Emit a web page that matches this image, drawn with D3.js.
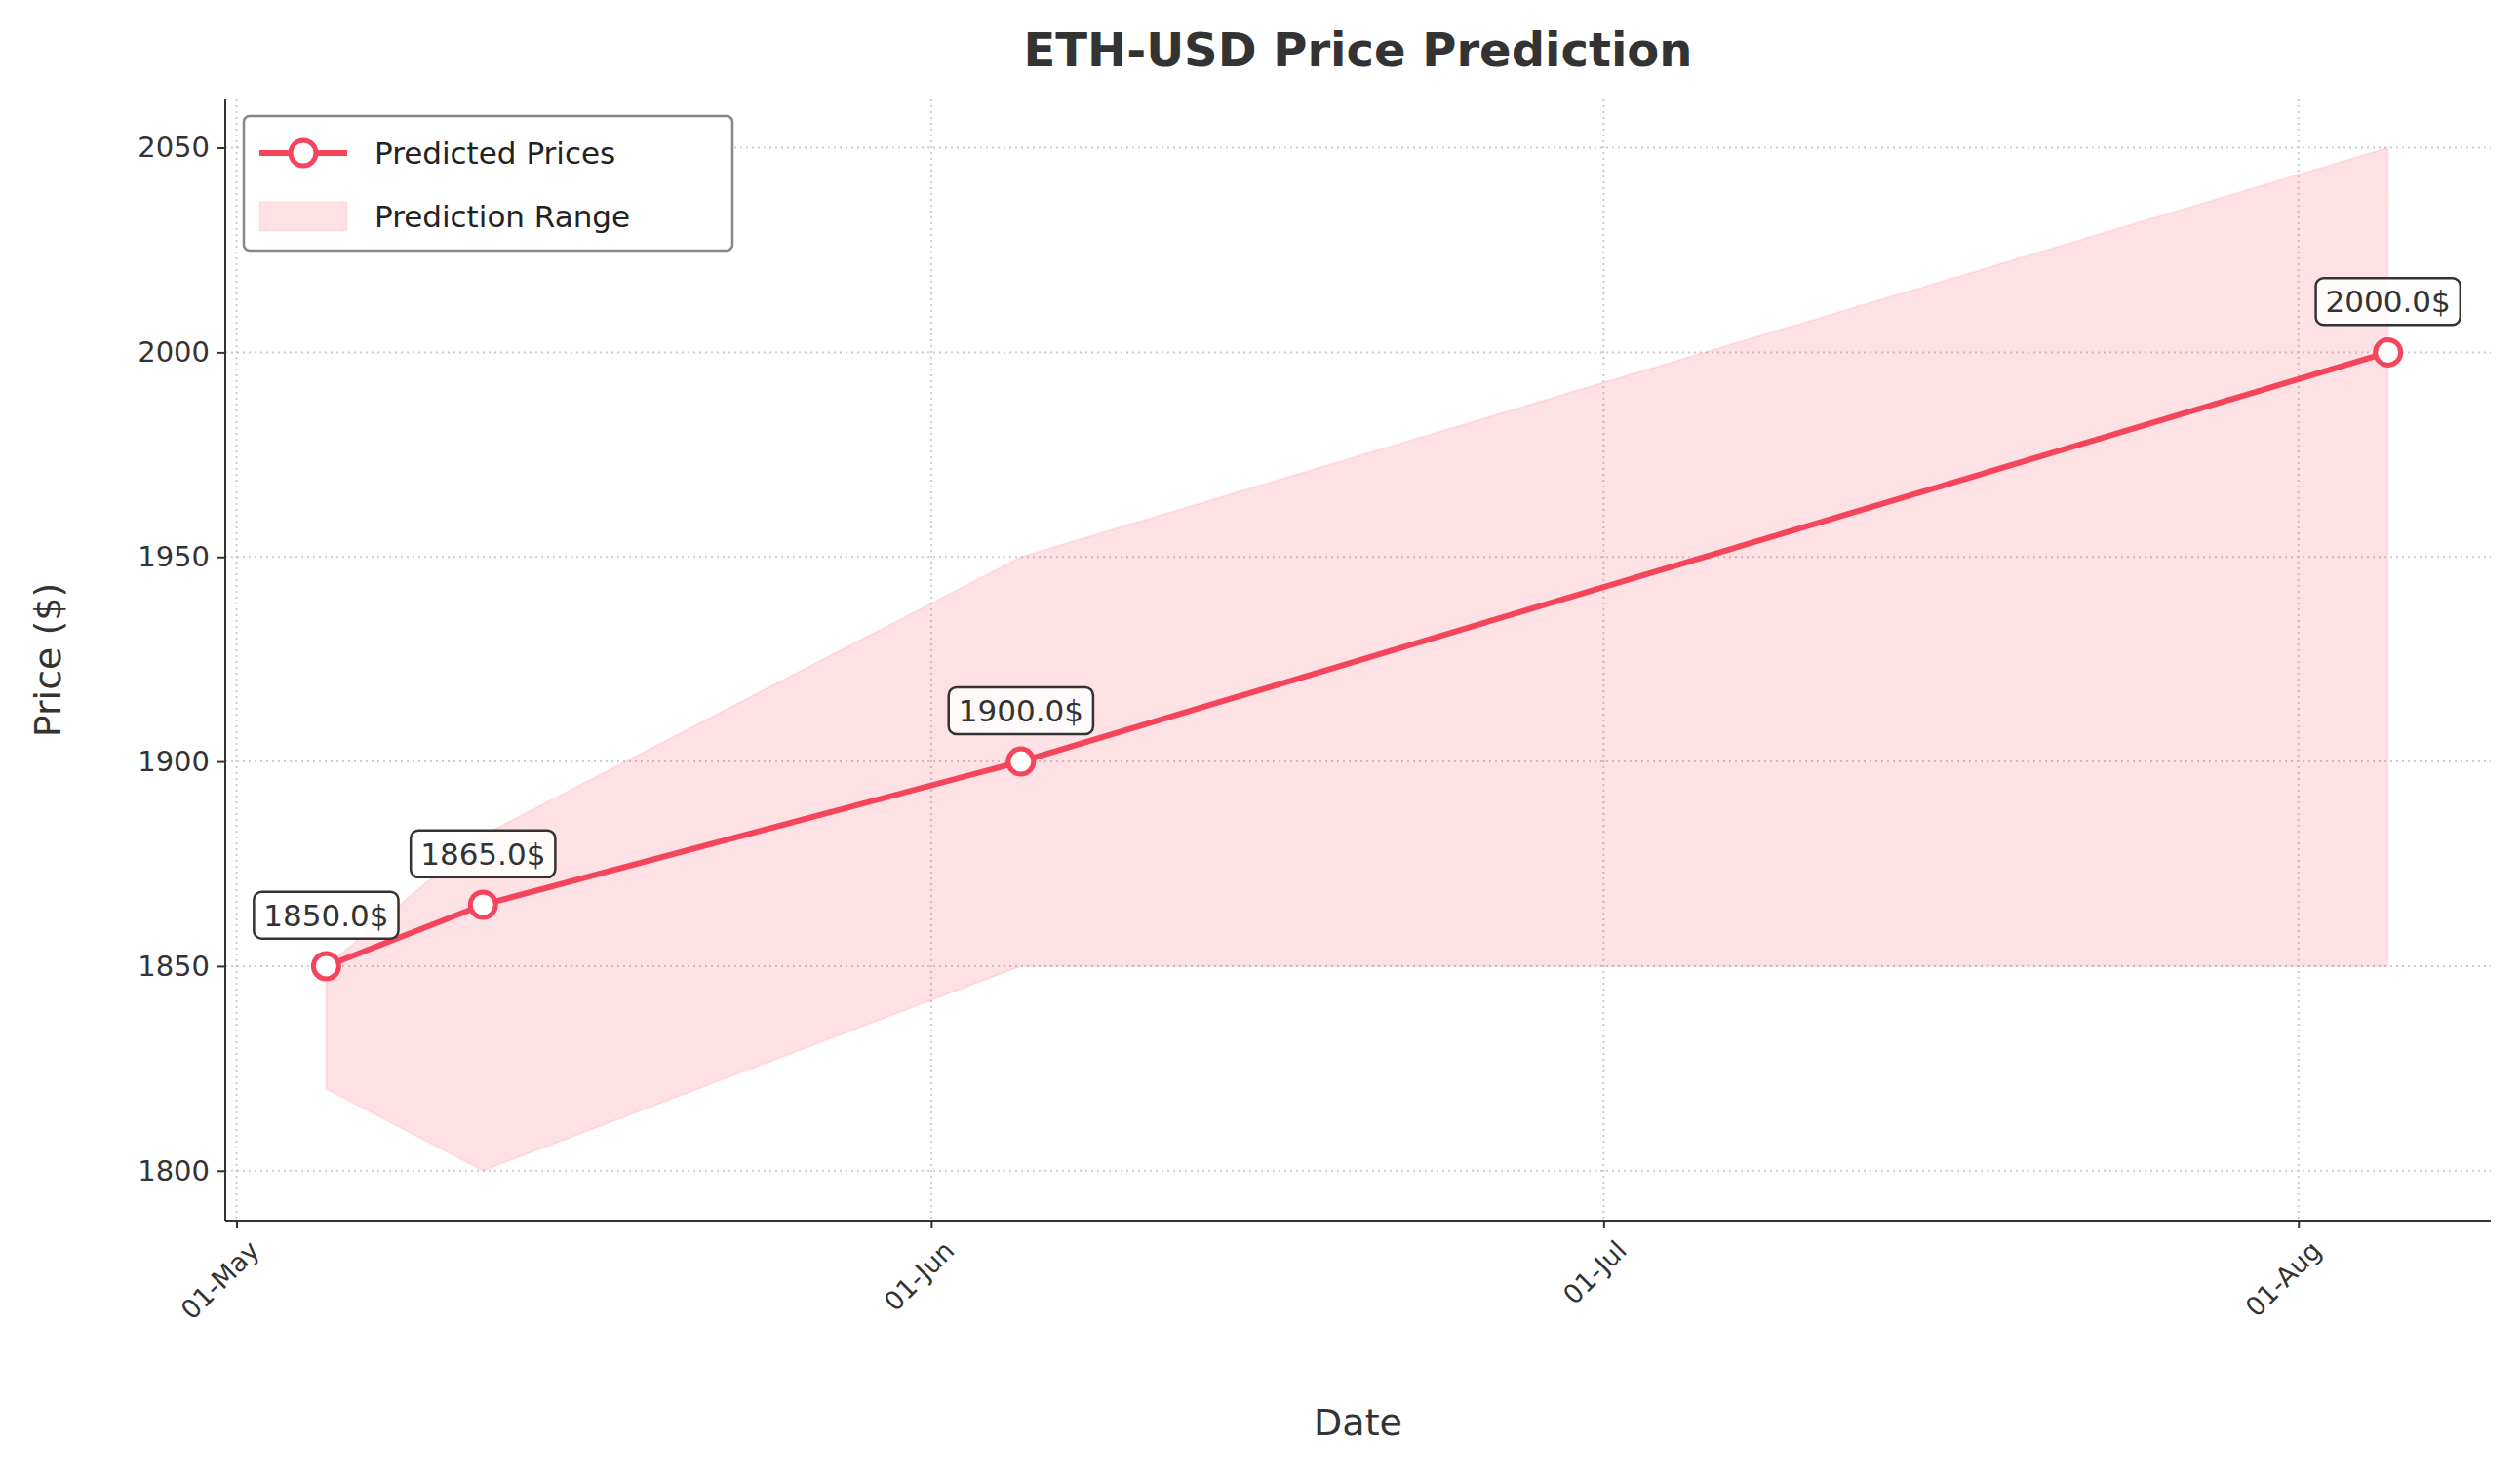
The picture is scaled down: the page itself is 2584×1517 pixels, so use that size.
<!DOCTYPE html>
<meta charset="utf-8">
<body style="margin:0;background:#fff">
<script src="https://cdn.jsdelivr.net/npm/d3@7"></script>
<script>
var dates = ["2023-05-05", "2023-05-12", "2023-06-05", "2023-08-05"],
    predicted = [1850, 1865, 1900, 2000],
    lower = [1820, 1800, 1850, 1850],
    upper = [1850, 1882, 1950, 2050],
    yTicks = [1800, 1850, 1900, 1950, 2000, 2050],
    xTicks = ["2023-05-01", "2023-06-01", "2023-07-01", "2023-08-01"];

var W = 2584, H = 1517,
    m = {left: 231, right: 30, top: 102, bottom: 265},
    color = "#f5455c",
    font = "DejaVu Sans, sans-serif";

var parse = d3.timeParse("%Y-%m-%d");
var data = dates.map((d, i) => ({date: parse(d), p: predicted[i], lo: lower[i], hi: upper[i]}));

var x = d3.scaleTime()
    .domain([new Date(2023, 3, 30, 12), new Date(2023, 7, 9, 14)])
    .range([m.left, W - m.right]);
var y = d3.scaleLinear()
    .domain([1787.8, 2061.8])
    .range([H - m.bottom, m.top]);

var svg = d3.select("body").append("svg")
    .attr("width", W).attr("height", H)
    .style("font-family", font);

// grid
svg.append("g").selectAll("line").data(yTicks).enter().append("line")
    .attr("x1", m.left).attr("x2", W - m.right)
    .attr("y1", d => y(d)).attr("y2", d => y(d))
    .attr("stroke", "#ccc").attr("stroke-width", 2).attr("stroke-dasharray", "2,4");
svg.append("g").selectAll("line").data(xTicks).enter().append("line")
    .attr("x1", d => x(parse(d))).attr("x2", d => x(parse(d)))
    .attr("y1", m.top).attr("y2", H - m.bottom)
    .attr("stroke", "#ccc").attr("stroke-width", 2).attr("stroke-dasharray", "2,4");

// range band
svg.append("path").datum(data)
    .attr("d", d3.area().x(d => x(d.date)).y0(d => y(d.lo)).y1(d => y(d.hi)))
    .attr("fill", color).attr("fill-opacity", 0.16)
    .attr("stroke", color).attr("stroke-opacity", 0.1).attr("stroke-width", 2);

// axes
var xAxis = svg.append("g").attr("transform", "translate(0," + (H - m.bottom) + ")")
    .call(d3.axisBottom(x).tickValues(xTicks.map(parse)).tickFormat(d3.timeFormat("%d-%b")).tickSize(8).tickPadding(8));
xAxis.attr("font-size", null).attr("font-family", null);
xAxis.selectAll("text").style("font-size", "27px").attr("fill", "#333")
    .attr("text-anchor", "end").attr("dx", "-0.2em").attr("dy", "0.9em")
    .attr("transform", "rotate(-45)");
var yAxis = svg.append("g").attr("transform", "translate(" + m.left + ",0)")
    .call(d3.axisLeft(y).tickValues(yTicks).tickFormat(d3.format("d")).tickSize(8).tickPadding(8));
yAxis.attr("font-size", null).attr("font-family", null);
yAxis.selectAll("text").style("font-size", "29px").attr("fill", "#333");
[xAxis, yAxis].forEach(a => {
  a.selectAll("line").attr("stroke", "#333").attr("stroke-width", 2);
  a.select(".domain").attr("stroke", "#333").attr("stroke-width", 2);
});
xAxis.select(".domain").attr("d", "M" + m.left + ",0H" + (W - m.right));
yAxis.select(".domain").attr("d", "M0," + m.top + "V" + (H - m.bottom));

// line and points
svg.append("path").datum(data)
    .attr("d", d3.line().x(d => x(d.date)).y(d => y(d.p)))
    .attr("fill", "none").attr("stroke", color).attr("stroke-width", 6);
svg.append("g").selectAll("circle").data(data).enter().append("circle")
    .attr("cx", d => x(d.date)).attr("cy", d => y(d.p)).attr("r", 13)
    .attr("fill", "#fff").attr("stroke", color).attr("stroke-width", 5);

// annotations
data.forEach(d => {
  var g = svg.append("g").attr("transform", "translate(" + x(d.date) + "," + (y(d.p) - 52) + ")");
  var t = g.append("text").text(d.p.toFixed(1) + "$")
      .attr("text-anchor", "middle").attr("dy", "0.35em")
      .attr("font-size", 31).attr("fill", "#333");
  var b = t.node().getBBox();
  g.insert("rect", "text")
      .attr("x", b.x - 10).attr("y", b.y - 6).attr("width", b.width + 20).attr("height", b.height + 12)
      .attr("rx", 8).attr("fill", "#fff").attr("fill-opacity", 0.85)
      .attr("stroke", "#333").attr("stroke-width", 2.5);
});

// labels
svg.append("text").attr("x", (m.left + W - m.right) / 2).attr("y", 68)
    .attr("text-anchor", "middle").attr("font-size", 48).attr("font-weight", "bold")
    .attr("fill", "#333").text("ETH-USD Price Prediction");
svg.append("text").attr("x", (m.left + W - m.right) / 2).attr("y", 1472)
    .attr("text-anchor", "middle").attr("font-size", 38).attr("fill", "#333").text("Date");
svg.append("text").attr("transform", "translate(62," + ((m.top + H - m.bottom) / 2) + ") rotate(-90)")
    .attr("text-anchor", "middle").attr("font-size", 38).attr("fill", "#333").text("Price ($)");

// legend
var lg = svg.append("g").attr("transform", "translate(250,119)");
lg.append("rect").attr("width", 501).attr("height", 138).attr("rx", 6)
    .attr("fill", "#fff").attr("stroke", "#888").attr("stroke-width", 2.5);
lg.append("line").attr("x1", 16).attr("x2", 106).attr("y1", 38).attr("y2", 38)
    .attr("stroke", color).attr("stroke-width", 6);
lg.append("circle").attr("cx", 61).attr("cy", 38).attr("r", 13)
    .attr("fill", "#fff").attr("stroke", color).attr("stroke-width", 5);
lg.append("rect").attr("x", 16).attr("y", 88).attr("width", 90).attr("height", 30)
    .attr("fill", color).attr("fill-opacity", 0.16).attr("stroke", color).attr("stroke-opacity", 0.1);
lg.append("text").attr("x", 134).attr("y", 38).attr("dy", "0.35em").attr("font-size", 31).attr("fill", "#222").text("Predicted Prices");
lg.append("text").attr("x", 134).attr("y", 103).attr("dy", "0.35em").attr("font-size", 31).attr("fill", "#222").text("Prediction Range");
</script>
</body>
